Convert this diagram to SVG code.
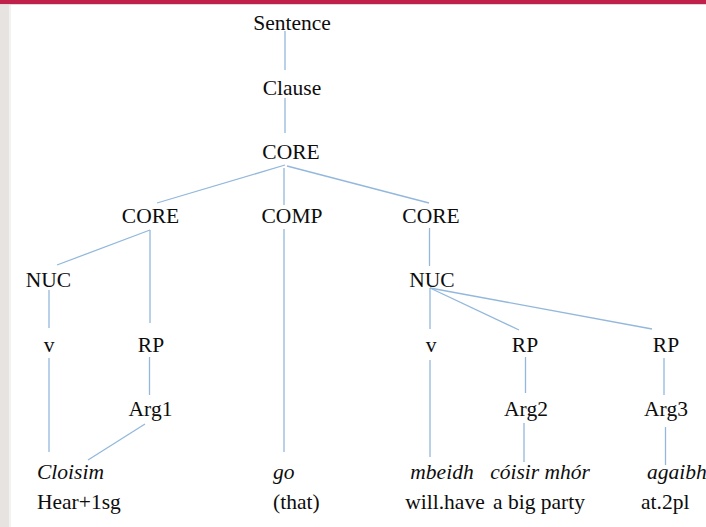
<svg xmlns="http://www.w3.org/2000/svg" width="706" height="527" viewBox="0 0 706 527">
  <style>
    .lbl { font-family: 'Liberation Serif', 'Times New Roman', Times, 'DejaVu Serif', serif; font-size: 21.5px; fill: #0d0d0d; text-anchor: middle; }
    .it { font-style: italic; }
    .st { text-anchor: start; }
    .edge { stroke: #93b8dc; stroke-width: 1.3; fill: none; }
  </style>
  <!-- page frame -->
  <rect x="0" y="0" width="706" height="527" fill="#ffffff"/>
  <rect x="0" y="0" width="9" height="527" fill="#e6e3e0"/>
  <rect x="9" y="0" width="2" height="527" fill="#f3f2f0"/>
  <rect x="0" y="0" width="706" height="4" fill="#c0214b"/>
  <rect x="0" y="4" width="706" height="1" fill="#e2d6da"/>

  <!-- tree edges -->
  <g id="connectors">
    <line class="edge" x1="285" y1="31" x2="285" y2="70"/>
    <line class="edge" x1="285" y1="98" x2="285" y2="133"/>
    <line class="edge" x1="285" y1="165" x2="157" y2="203"/>
    <line class="edge" x1="284" y1="168" x2="284" y2="205"/>
    <line class="edge" x1="287" y1="166" x2="429" y2="203"/>
    <line class="edge" x1="150" y1="230" x2="57" y2="265"/>
    <line class="edge" x1="150" y1="230" x2="150" y2="323"/>
    <line class="edge" x1="49" y1="290" x2="49" y2="328"/>
    <line class="edge" x1="49" y1="358" x2="49" y2="452"/>
    <line class="edge" x1="149.5" y1="357" x2="149.5" y2="395"/>
    <line class="edge" x1="145" y1="424" x2="88" y2="460"/>
    <line class="edge" x1="284" y1="229" x2="284" y2="452"/>
    <line class="edge" x1="429.5" y1="228" x2="429.5" y2="266"/>
    <line class="edge" x1="430" y1="288" x2="430" y2="329"/>
    <line class="edge" x1="430" y1="288" x2="519" y2="330"/>
    <line class="edge" x1="430" y1="288" x2="652" y2="329"/>
    <line class="edge" x1="430" y1="360" x2="430" y2="457"/>
    <line class="edge" x1="525.5" y1="357" x2="525.5" y2="393"/>
    <line class="edge" x1="524" y1="423" x2="524" y2="462"/>
    <line class="edge" x1="664" y1="358" x2="664" y2="395"/>
    <line class="edge" x1="665.5" y1="427" x2="665.5" y2="465"/>
  </g>

  <!-- nodes -->
  <g id="n-sentence"><text class="lbl" x="292" y="30">Sentence</text></g>
  <g id="n-clause"><text class="lbl" x="292" y="95">Clause</text></g>
  <g id="n-core"><text class="lbl" x="291" y="159">CORE</text></g>
  <g id="n-core-left"><text class="lbl" x="150.5" y="223">CORE</text></g>
  <g id="n-comp"><text class="lbl" x="292" y="223">COMP</text></g>
  <g id="n-core-right"><text class="lbl" x="431" y="223">CORE</text></g>
  <g id="n-nuc-left"><text class="lbl" x="48.5" y="287">NUC</text></g>
  <g id="n-nuc-right"><text class="lbl" x="432" y="287">NUC</text></g>
  <g id="n-v-left"><text class="lbl" x="49" y="352">v</text></g>
  <g id="n-rp1"><text class="lbl" x="151" y="352">RP</text></g>
  <g id="n-v-right"><text class="lbl" x="431" y="352">v</text></g>
  <g id="n-rp2"><text class="lbl" x="525" y="352">RP</text></g>
  <g id="n-rp3"><text class="lbl" x="666" y="352">RP</text></g>
  <g id="n-arg1"><text class="lbl" x="150.5" y="416">Arg1</text></g>
  <g id="n-arg2"><text class="lbl" x="526" y="416">Arg2</text></g>
  <g id="n-arg3"><text class="lbl" x="666" y="416">Arg3</text></g>

  <!-- words and glosses -->
  <g id="w-cloisim">
    <text class="lbl it st" x="37" y="479">Cloisim</text>
    <text class="lbl st" x="37" y="509">Hear+1sg</text>
  </g>
  <g id="w-go">
    <text class="lbl it st" x="273" y="479">go</text>
    <text class="lbl st" x="273" y="509">(that)</text>
  </g>
  <g id="w-mbeidh">
    <text class="lbl it" x="442" y="479">mbeidh</text>
    <text class="lbl" x="445" y="509">will.have</text>
  </g>
  <g id="w-coisir">
    <text class="lbl it" x="540" y="479">cóisir mhór</text>
    <text class="lbl" x="539" y="509">a big party</text>
  </g>
  <g id="w-agaibh">
    <text class="lbl it st" x="647" y="479">agaibh</text>
    <text class="lbl st" x="641" y="509">at.2pl</text>
  </g>
</svg>
